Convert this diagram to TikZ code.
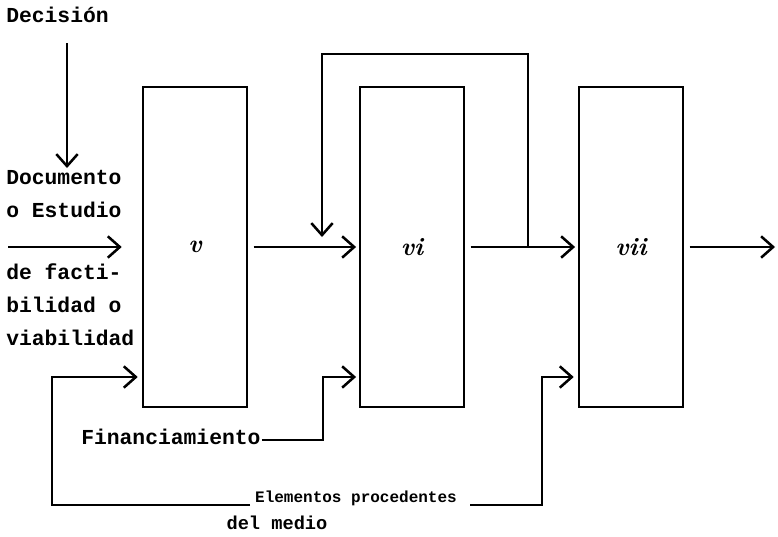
\documentclass[tikz,border=0pt]{standalone}
\usepackage{fontspec}
\setmonofont{Liberation Mono}
\usepackage{tikz}
\usetikzlibrary{arrows.meta}

\begin{document}
\begin{tikzpicture}[x=0.75pt,y=-0.75pt,line width=1.9pt,
    fase/.style={draw,minimum width=78pt,minimum height=240pt,font=\fontsize{19}{22}\selectfont\bfseries\itshape},
    etiq/.style={font=\ttfamily\bfseries\fontsize{16}{18}\selectfont,inner sep=0pt},
    flecha/.style={-{Straight Barb[length=9pt,width=16pt]}}]
                \useasboundingbox (0,0) rectangle (778,536);
                % Fases v, vi, vii
                \node[fase] (v) at (195,247) {v};
                \node[fase] (vi) at (412,247) {vi};
                \node[fase] (vii) at (631,247) {vii};
                % Entradas a la fase v
                \node[etiq,anchor=west] (dec) at (5,15) {Decisión};
                \node[etiq,anchor=west] (doc1) at (5,177) {Documento};
                \node[etiq,anchor=west] (doc2) at (5,210) {o Estudio};
                \node[etiq,anchor=west] (doc3) at (5,272) {de facti-};
                \node[etiq,anchor=west] (doc4) at (5,305) {bilidad o};
                \node[etiq,anchor=west] (doc5) at (5,338) {viabilidad};
                \coordinate (decA) at (67,43);
                \coordinate (decB) at (67,168);
                \draw[flecha] (decA) -- (decB);
                \coordinate (ent) at (8,247);
                \draw[flecha] (ent) -- ([xshift=-15pt]v.west);
                % Flujo principal
                \draw[flecha] ([xshift=4pt]v.east) -- ([xshift=-2pt]vi.west);
                \draw[flecha] ([xshift=4pt]vi.east) -- ([xshift=-2pt]vii.west);
                \coordinate (sal) at (775,247);
                \draw[flecha] ([xshift=4pt]vii.east) -- (sal);
                % Retroalimentacion
                \coordinate (ret) at (528,247);
                \draw[flecha] (ret) -- (528,54) -- (322,54) -- (322,237);
                % Financiamiento
                \node[etiq,anchor=west] (fin) at (80,437) {Financiamiento};
                \draw[flecha] (fin.east |- 0,440) -- (323,440) -- (323,377) -- ([xshift=-2pt]vi.west |- 0,377);
                % Elementos del medio
                \node[etiq,font=\ttfamily\bfseries\fontsize{12}{14}\selectfont] (elem) at (356,498) {Elementos procedentes};
                \node[etiq,font=\ttfamily\bfseries\fontsize{14}{16}\selectfont] (medio) at (277,523) {del medio};
                \coordinate (elemI) at (250,505);
                \coordinate (elemD) at (470,505);
                \draw[flecha] (elemI) -- (52,505) -- (52,377) -- ([xshift=-3pt]v.west |- 0,377);
                \draw[flecha] (elemD) -- (542,505) -- (542,377) -- ([xshift=-3pt]vii.west |- 0,377);
            \end{tikzpicture}
\end{document}
